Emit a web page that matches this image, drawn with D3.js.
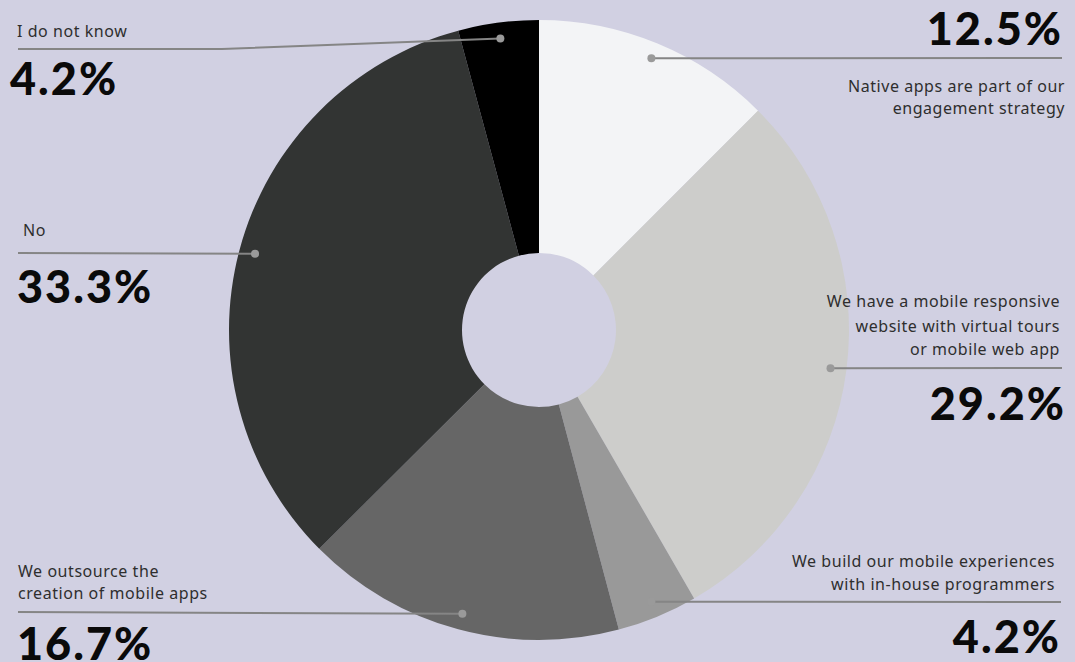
<!DOCTYPE html>
<html>
<head>
<meta charset="utf-8">
<script src="https://cdn.jsdelivr.net/npm/d3@7"></script>
<style>
  html, body { margin: 0; padding: 0; background: #d1d0e2; }
  svg { display: block; }
  .lbl { font-family: "Noto Sans", Lato, sans-serif; font-size: 16px; letter-spacing: 0.55px; fill: #2e2e2e; }
  .val { font-family: Lato, "Noto Sans", sans-serif; font-weight: 900; font-size: 45px; letter-spacing: 2px; fill: #0a0a0a; }
</style>
</head>
<body>
<svg id="chart" width="1075" height="662"></svg>
<script>
// Survey answers, clockwise from 12 o'clock
const categories = [
  "Native apps are part of our engagement strategy",
  "We have a mobile responsive website with virtual tours or mobile web app",
  "We build our mobile experiences with in-house programmers",
  "We outsource the creation of mobile apps",
  "No",
  "I do not know"
];
const labelLines = [
  ["Native apps are part of our", "engagement strategy"],
  ["We have a mobile responsive", "website with virtual tours", "or mobile web app"],
  ["We build our mobile experiences", "with in-house programmers"],
  ["We outsource the", "creation of mobile apps"],
  ["No"],
  ["I do not know"]
];
const values = [12.5, 29.2, 4.2, 16.7, 33.3, 4.2];
const valueLabels = ["12.5%", "29.2%", "4.2%", "16.7%", "33.3%", "4.2%"];
const colors = ["#f3f4f6", "#cdcdcb", "#999999", "#666666", "#323433", "#000000"];

const W = 1075, H = 662;
const cx = 539, cy = 330, outerR = 310, innerR = 77, dotR = 294;

// Label placement for each slice
const layout = [
  { side: "right", lineY: 58,  lineEnd: 1062, textX: 1065, textY: [92, 114],      valX: 1063, valY: 45 },
  { side: "right", lineY: 368, lineEnd: 1062, textX: 1060, textY: [307, 332, 355], valX: 1066, valY: 420 },
  { side: "right", lineY: 602, lineEnd: 1061, textX: 1055, textY: [567, 590],      valX: 1061, valY: 653 },
  { side: "left",  lineY: 612, lineEnd: 18,   textX: 18,   textY: [577, 599],      valX: 17,   valY: 660 },
  { side: "left",  lineY: 253, lineEnd: 18,   textX: 23,   textY: [236],           valX: 17,   valY: 303 },
  { side: "left",  lineY: 49,  lineEnd: 18,   textX: 17,   textY: [37],            valX: 10,   valY: 95, bendX: 222 }
];

const svg = d3.select("#chart");
svg.append("rect").attr("width", W).attr("height", H).attr("fill", "#d1d0e2");

const pie = d3.pie().sort(null).value(d => d);
const arcs = pie(values);
const arc = d3.arc().innerRadius(innerR).outerRadius(outerR);
const dotArc = d3.arc().innerRadius(dotR).outerRadius(dotR);

const g = svg.append("g").attr("transform", `translate(${cx},${cy})`);
g.selectAll("path.slice")
  .data(arcs)
  .join("path")
  .attr("class", "slice")
  .attr("d", arc)
  .attr("fill", (d, i) => colors[i]);

// Leader lines, dots and labels
arcs.forEach((a, i) => {
  const L = layout[i];
  const [dx, dy] = dotArc.centroid(a);
  const px = cx + dx, py = cy + dy;
  const pts = [[px, py]];
  if (L.bendX !== undefined) pts.push([L.bendX, L.lineY]);
  pts.push([L.lineEnd, L.lineY]);
  svg.append("path")
    .attr("d", d3.line()(pts))
    .attr("fill", "none")
    .attr("stroke", "#858585")
    .attr("stroke-width", 2);
  svg.append("circle")
    .attr("cx", px).attr("cy", py).attr("r", 4)
    .attr("fill", "#9a9a9a");

  const anchor = L.side === "right" ? "end" : "start";
  labelLines[i].forEach((t, j) => {
    svg.append("text")
      .attr("class", "lbl")
      .attr("x", L.textX).attr("y", L.textY[j])
      .attr("text-anchor", anchor)
      .text(t);
  });
  svg.append("text")
    .attr("class", "val")
    .attr("x", L.valX).attr("y", L.valY)
    .attr("text-anchor", anchor)
    .text(valueLabels[i]);
});
</script>
</body>
</html>
